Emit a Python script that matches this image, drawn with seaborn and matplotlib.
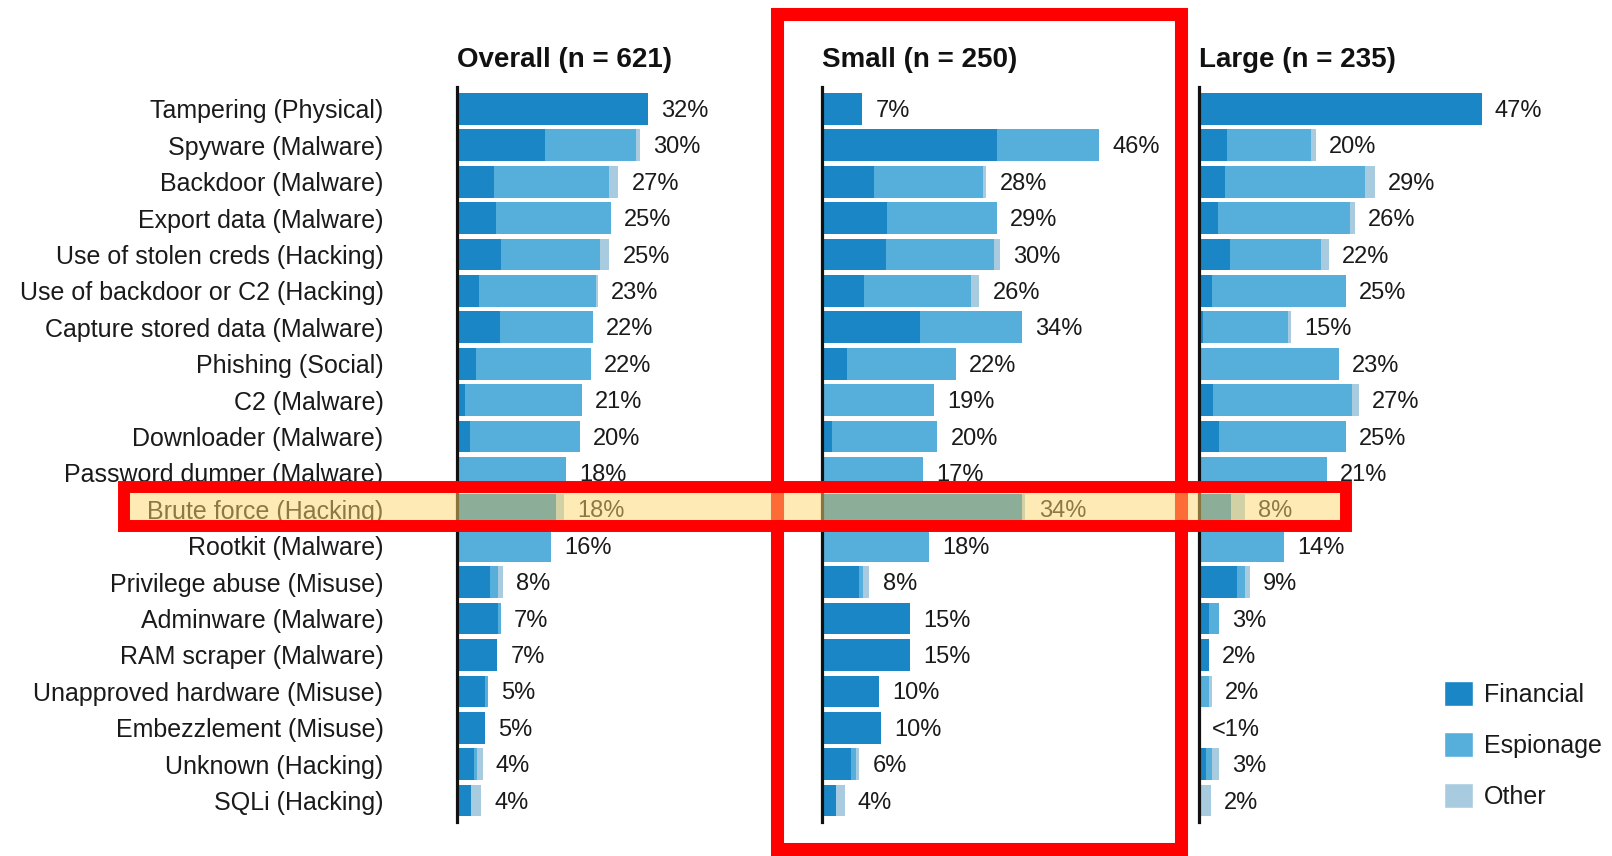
import numpy as np
import pandas as pd
import seaborn as sns
import matplotlib.pyplot as plt
from matplotlib.patches import Patch, Rectangle
from matplotlib.transforms import blended_transform_factory

# --- data (percent of breaches) ------------------------------------
categories = [
    'Tampering (Physical)', 'Spyware (Malware)', 'Backdoor (Malware)',
    'Export data (Malware)', 'Use of stolen creds (Hacking)',
    'Use of backdoor or C2 (Hacking)', 'Capture stored data (Malware)',
    'Phishing (Social)', 'C2 (Malware)', 'Downloader (Malware)',
    'Password dumper (Malware)', 'Brute force (Hacking)', 'Rootkit (Malware)',
    'Privilege abuse (Misuse)', 'Adminware (Malware)', 'RAM scraper (Malware)',
    'Unapproved hardware (Misuse)', 'Embezzlement (Misuse)',
    'Unknown (Hacking)', 'SQLi (Hacking)',
]

overall_fin = [31.8, 14.6, 6.2, 6.5, 7.3, 3.7, 7.1, 3.1, 1.3, 2.2,
               0.0, 16.5, 0.0, 5.5, 6.9, 6.7, 4.7, 4.6, 2.9, 2.3]
overall_esp = [0.0, 15.3, 19.2, 19.1, 16.6, 19.4, 15.5, 19.2, 19.5, 18.3,
               18.2, 0.0, 15.7, 1.3, 0.4, 0.0, 0.5, 0.0, 0.5, 0.0]
overall_oth = [0.0, 0.6, 1.5, 0.0, 1.5, 0.4, 0.0, 0.0, 0.0, 0.0,
               0.0, 1.4, 0.0, 0.8, 0.0, 0.0, 0.0, 0.0, 0.9, 1.7]
overall_lbl = ['32%', '30%', '27%', '25%', '25%', '23%', '22%', '22%', '21%', '20%',
               '18%', '18%', '16%', '8%', '7%', '7%', '5%', '5%', '4%', '4%']

small_fin = [6.7, 29.1, 8.6, 10.9, 10.6, 7.0, 16.3, 4.1, 0.4, 1.7,
             0.0, 33.4, 0.0, 6.2, 14.6, 14.6, 9.5, 9.8, 4.8, 2.3]
small_esp = [0.0, 17.1, 18.3, 18.2, 18.0, 17.9, 17.0, 18.2, 18.3, 17.5,
             16.9, 0.0, 17.8, 0.6, 0.0, 0.0, 0.0, 0.0, 0.8, 0.0]
small_oth = [0.0, 0.0, 0.5, 0.0, 1.1, 1.3, 0.0, 0.0, 0.0, 0.0,
             0.0, 0.5, 0.0, 1.1, 0.0, 0.0, 0.0, 0.0, 0.6, 1.5]
small_lbl = ['7%', '46%', '28%', '29%', '30%', '26%', '34%', '22%', '19%', '20%',
             '17%', '34%', '18%', '8%', '15%', '15%', '10%', '10%', '6%', '4%']

large_fin = [47.1, 4.6, 4.3, 3.1, 5.2, 2.2, 0.7, 0.0, 2.4, 3.4,
             0.0, 5.3, 0.0, 6.4, 1.6, 1.6, 0.0, 0.0, 1.1, 0.0]
large_esp = [0.0, 14.1, 23.3, 22.1, 15.2, 22.3, 14.1, 23.3, 23.1, 21.1,
             21.3, 0.0, 14.1, 1.2, 1.7, 0.0, 1.6, 0.0, 1.1, 0.3]
large_oth = [0.0, 0.8, 1.7, 0.8, 1.2, 0.0, 0.5, 0.0, 1.1, 0.0,
             0.0, 2.3, 0.0, 0.9, 0.0, 0.0, 0.5, 0.0, 1.1, 1.7]
large_lbl = ['47%', '20%', '29%', '26%', '22%', '25%', '15%', '23%', '27%', '25%',
             '21%', '8%', '14%', '9%', '3%', '2%', '2%', '<1%', '3%', '2%']

panels = [
    ('Overall (n = 621)', overall_fin, overall_esp, overall_oth, overall_lbl),
    ('Small (n = 250)', small_fin, small_esp, small_oth, small_lbl),
    ('Large (n = 235)', large_fin, large_esp, large_oth, large_lbl),
]
highlight = 'Brute force (Hacking)'

FIN, ESP, OTH = '#1b86c6', '#56afdb', '#a8cbe0'
TXT = '#1a1a1a'

sns.set_style('white')
plt.rcParams['font.family'] = ['Liberation Sans', 'DejaVu Sans']

W, H = 1612, 856
fig = plt.figure(figsize=(W / 100, H / 100), dpi=100)

ax_left = [457, 822, 1199]
top_px, bot_px = 86.7, 821.7
axes = []
for (title, fin, esp, oth, lbl), left in zip(panels, ax_left):
    ax = fig.add_axes([left / W, 1 - bot_px / H, 300 / W, (bot_px - top_px) / H])
    ax.set_facecolor('none')
    df = pd.DataFrame({'cat': categories, 'fin': fin, 'esp': esp, 'oth': oth})
    df['fe'] = df['fin'] + df['esp']
    df['tot'] = df['fe'] + df['oth']
    # stacked look: draw cumulative totals back to front
    for col, c in [('tot', OTH), ('fe', ESP), ('fin', FIN)]:
        sns.barplot(data=df, x=col, y='cat', orient='h', color=c, width=0.87,
                    saturation=1, ax=ax, linewidth=0)
    for i, (t, s) in enumerate(zip(df['tot'], lbl)):
        ax.annotate(s, (t, i), xytext=(9.5, -1.5), textcoords='offset points',
                    va='center', ha='left', fontsize=17, color=TXT)
    ax.set_xlim(0, 50)
    ax.set_ylim(19.58, -0.61)
    ax.set_xlabel('')
    ax.set_ylabel('')
    ax.set_xticks([])
    for sp in ['top', 'right', 'bottom']:
        ax.spines[sp].set_visible(False)
    ax.spines['left'].set_linewidth(2.3)
    ax.spines['left'].set_color('#111111')
    ax.set_title(title, loc='left', fontsize=20, fontweight='bold', color='#111111', pad=14)
    axes.append(ax)

axes[0].tick_params(axis='y', length=0, pad=53, labelsize=18, labelcolor=TXT)
for ax in axes[1:]:
    ax.set_yticks([])

# red box around the Small panel
fig.add_artist(Rectangle((776.5 / W, 1 - 849 / H), (1181 - 776.5) / W, (849 - 14) / H,
                         transform=fig.transFigure, fill=False, edgecolor='#ff0000',
                         linewidth=9.4, zorder=8))

# highlighted row: translucent yellow band plus red outline
hi = categories.index(highlight)
tr = blended_transform_factory(fig.transFigure, axes[0].transData)
x0, x1 = 124.5 / W, 1345.5 / W
fig.add_artist(Rectangle((x0, hi - 0.62), x1 - x0, 1.07, transform=tr,
                         facecolor='#fdd76d', alpha=0.5, edgecolor='none', zorder=10))
fig.add_artist(Rectangle((x0, hi - 0.62), x1 - x0, 1.07, transform=tr,
                         fill=False, edgecolor='#ff0000', linewidth=8.6, zorder=12))

handles = [Patch(facecolor=FIN, label='Financial'),
           Patch(facecolor=ESP, label='Espionage'),
           Patch(facecolor=OTH, label='Other')]
fig.legend(handles=handles, loc='upper left', bbox_to_anchor=(1444 / W, 1 - 681 / H),
           frameon=False, fontsize=18, handlelength=1.15, handleheight=1.15,
           labelspacing=1.01, handletextpad=0.45, borderpad=0, borderaxespad=0,
           labelcolor=TXT)

fig.savefig('out.png', dpi=100)
